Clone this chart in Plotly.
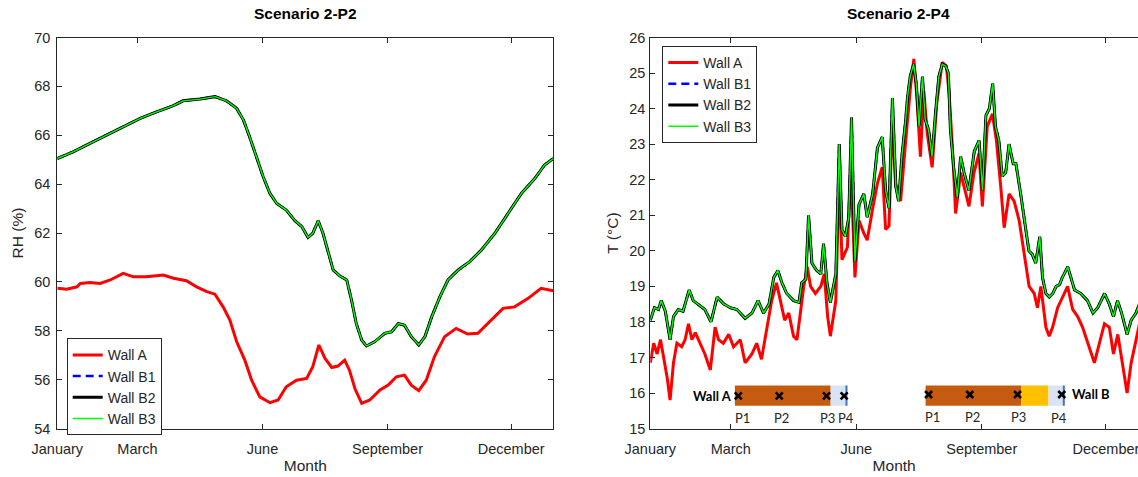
import plotly.graph_objects as go

# ---------------- data ----------------
months = ["January", "March", "June", "September", "December"]
month_start_day = [0, 59, 151, 243, 334]

rh_day_a = [0, 7, 14.5, 17, 24, 31.5, 39, 48.5, 56, 65.5,
            78, 85.5, 95, 102.5, 110, 116, 122, 127, 132, 138,
            143, 149, 156.5, 162.5, 168.5, 176, 183.5, 188, 192.5, 197,
            202, 206.5, 211.5, 215, 219, 224, 230, 237.5, 243.5, 249.5,
            255.5, 260.5, 266, 271.5, 277.5, 285, 293.5, 302, 309.5, 318,
            328, 336.5, 346.5, 356, 365]
rh_wall_a = [59.74, 59.7, 59.8, 59.94, 59.98, 59.94, 60.08, 60.35, 60.21, 60.21,
             60.28, 60.15, 60.05, 59.8, 59.6, 59.5, 58.98, 58.44, 57.55, 56.8,
             55.98, 55.3, 55.06, 55.17, 55.71, 55.98, 56.05, 56.53, 57.42, 56.87,
             56.5, 56.56, 56.8, 56.39, 55.64, 55.03, 55.17, 55.58, 55.78, 56.12,
             56.19, 55.78, 55.55, 55.98, 56.94, 57.76, 58.1, 57.87, 57.9, 58.37,
             58.92, 58.98, 59.33, 59.74, 59.64]

rh_day_b = [0, 12, 24, 36, 48.5, 61, 73, 85, 92.5, 105,
            116, 124.5, 132, 137, 141.5, 146.5, 151.5, 156.5, 161.5, 168.5,
            175, 180, 184.5, 188, 192, 195.5, 199.5, 203, 208, 213,
            216.5, 220, 224, 227.5, 233.5, 241, 246, 251, 255.5, 260.5,
            266, 270.5, 275.5, 281.5, 287.5, 295, 303.5, 312, 322, 331.5,
            341.5, 351.5, 358.5, 365]
rh_wall_b = [65.05, 65.33, 65.67, 66.01, 66.35, 66.69, 66.96, 67.2, 67.41, 67.48,
             67.58, 67.41, 67.1, 66.62, 65.94, 65.12, 64.3, 63.62, 63.21, 62.94,
             62.5, 62.26, 61.82, 61.99, 62.5, 61.99, 61.17, 60.49, 60.24, 60.08,
             59.26, 58.3, 57.62, 57.38, 57.55, 57.9, 57.96, 58.3, 58.23, 57.76,
             57.42, 57.76, 58.57, 59.39, 60.08, 60.49, 60.83, 61.3, 61.99, 62.8,
             63.62, 64.24, 64.78, 65.05]

t_day_a = [0, 2.5, 5, 7.5, 10, 12.5, 14.5, 17, 19.5, 23,
           25.5, 28, 30.5, 33, 36.5, 40, 44, 47.5, 50, 53.5,
           57.5, 61, 66, 69.5, 74.5, 78, 81.5, 85.5, 89, 92.5,
           95.5, 98.5, 101.5, 105, 107.5, 110, 112.5, 115, 117.5, 121,
           125, 127.5, 130, 132, 136, 138.5, 140.5, 144.5, 147, 150,
           153, 156.5, 159, 162.8, 166.5, 170, 172.5, 175, 177.5, 179.7,
           183.5, 187, 190.7, 193.2, 195.5, 198, 200.5, 203, 206.6, 210,
           214, 217, 219, 221.5, 223.8, 227.5, 231, 233.6, 237.3, 241,
           243.4, 247, 250.8, 253.7, 256.9, 259.4, 263, 266.7, 270.4, 274.1,
           277.7, 281.4, 283.8, 286.3, 290, 292.4, 294.9, 298.6, 302.2, 305.9,
           309.6, 313.3, 316.9, 321.8, 325.5, 329.2, 332.9, 336.5, 339.5, 342.7,
           346.4, 349.5, 352.5, 356.2, 358.6, 362, 365]
t_wall_a = [16.85, 17.4, 17.1, 17.5, 16.95, 16.4, 15.8, 16.85, 17.4, 17.3,
            17.5, 17.95, 17.5, 17.7, 17.4, 17.1, 16.65, 17.85, 17.5, 17.4,
            17.65, 17.3, 17.5, 16.85, 17.1, 17.4, 16.95, 17.85, 18.6, 19.1,
            18.6, 18.05, 18.25, 17.6, 17.5, 18.25, 19.0, 19.55, 19.0, 18.8,
            19.0, 19.35, 18.15, 17.6, 18.6, 22.2, 19.75, 20.1, 22.4, 19.25,
            20.85, 20.5, 20.3, 21.15, 21.9, 22.35, 20.6, 20.7, 23.8, 21.9,
            21.4, 23.0, 24.6, 25.4, 24.25, 22.65, 24.5, 23.3, 22.35, 24.15,
            25.3, 25.2, 24.45, 22.9, 21.05, 22.2, 21.6, 21.25, 22.2, 22.75,
            21.25, 23.5, 23.85, 23.1, 21.8, 20.65, 21.6, 21.4, 20.85, 19.9,
            19.0, 18.8, 18.4, 19.0, 17.85, 17.6, 17.85, 18.4, 18.7, 19.0,
            18.35, 18.15, 17.85, 17.3, 16.85, 17.4, 17.95, 17.85, 17.1, 17.65,
            16.75, 16.0, 16.85, 17.5, 17.95, 17.3, 17.1]

t_day_b = [0, 3, 6, 8, 11, 13, 14.5, 17, 20.5, 24,
           28.5, 31.5, 35, 40, 44.5, 49, 54, 58.5, 63.5, 69.5,
           74.5, 79, 83, 87, 90.5, 93.5, 96.5, 100, 105, 109,
           111, 114, 116, 118.5, 122, 125, 127, 129.5, 132, 136,
           138.5, 140.5, 143, 145.5, 147.5, 150, 153, 156.5, 159, 163,
           166.5, 170, 172.5, 175, 177.5, 180, 182, 184.5, 187, 188.5,
           190.5, 193, 195, 197, 199.5, 201.5, 204, 206.5, 209, 211.5,
           214, 216.5, 218.5, 220, 222.5, 225, 227.5, 230, 233.5, 237.5,
           241, 243.5, 246, 248.5, 251, 253, 255.5, 258, 260.5, 263,
           266, 268, 271.5, 275.5, 277.5, 280, 282.5, 285.5, 287.5, 290,
           292.5, 295, 297.5, 300, 302, 306, 308.5, 311, 315.5, 320.5,
           324.5, 328, 333, 336.5, 339.5, 342.5, 345.5, 349.5, 352.5, 356,
           358.5, 362, 365]
t_wall_b = [18.05, 18.4, 18.35, 18.6, 18.3, 17.9, 17.5, 18.15, 18.35, 18.3,
            18.9, 18.6, 18.5, 18.35, 18.0, 18.7, 18.5, 18.4, 18.35, 18.1,
            18.25, 18.6, 18.25, 18.5, 19.25, 19.45, 19.1, 18.8, 18.6, 18.55,
            19.1, 19.2, 21.0, 19.65, 19.45, 19.35, 20.2, 19.1, 18.55, 19.35,
            23.0, 20.6, 20.4, 20.95, 23.75, 19.7, 21.3, 21.6, 20.95, 21.6,
            22.9, 23.2, 21.7, 21.2, 24.3, 21.8, 21.4, 22.7, 23.6, 24.3,
            24.9, 25.25, 24.7, 23.5, 24.9, 23.7, 23.4, 22.65, 23.85, 24.9,
            25.25, 25.2, 25.0, 23.4, 22.3, 21.5, 22.65, 22.2, 21.7, 22.8,
            23.1, 21.7, 23.8, 24.0, 24.7, 23.5, 23.1, 22.1, 22.2, 23.0,
            22.45, 22.45, 21.6, 20.6, 20.0, 19.9, 19.65, 20.4, 19.25, 18.8,
            18.7, 18.8, 19.0, 19.05, 19.25, 19.55, 19.25, 18.9, 18.8, 18.6,
            18.25, 18.4, 18.8, 18.5, 18.15, 18.6, 18.25, 17.65, 18.05, 18.25,
            18.5, 18.4, 18.2]

series_names = ["Wall A", "Wall B1", "Wall B2", "Wall B3"]

# wall schematic (illustration inside the temperature panel)
wall_a_layers = [(62.0, 132.2, "#C55A11"), (132.2, 144.3, "#DAE3F3")]
wall_b_layers = [(201.8, 271.8, "#C55A11"), (271.8, 291.9, "#FFC000"), (291.9, 303.6, "#DAE3F3")]
wall_a_sensor_x = [64.5, 94.5, 129.2, 142.1]
wall_b_sensor_x = [204.0, 234.2, 269.2, 301.6]
sensor_labels = ["P1", "P2", "P3", "P4"]

# ---------------- styling ----------------
W, H = 1138, 477
FONT = "Liberation Sans, Arial, Helvetica, sans-serif"
AX = "#262626"
styles = {
    "Wall A": dict(color="#FF0000", width=3),
    "Wall B1": dict(color="#0000FF", width=2.5, dash="8px,5px"),
    "Wall B2": dict(color="#000000", width=3),
    "Wall B3": dict(color="#00FF00", width=1.4),
}

fig = go.Figure()

rh_x = {"Wall A": rh_day_a, "Wall B1": rh_day_b, "Wall B2": rh_day_b, "Wall B3": rh_day_b}
rh_y = {"Wall A": rh_wall_a, "Wall B1": rh_wall_b, "Wall B2": rh_wall_b, "Wall B3": rh_wall_b}
t_x = {"Wall A": t_day_a, "Wall B1": t_day_b, "Wall B2": t_day_b, "Wall B3": t_day_b}
t_y = {"Wall A": t_wall_a, "Wall B1": t_wall_b, "Wall B2": t_wall_b, "Wall B3": t_wall_b}

for name in series_names:
    fig.add_trace(go.Scatter(x=rh_x[name], y=rh_y[name], mode="lines", name=name,
                             line=styles[name], xaxis="x", yaxis="y", legend="legend"))
for name in series_names:
    fig.add_trace(go.Scatter(x=t_x[name], y=t_y[name], mode="lines", name=name,
                             line=styles[name], xaxis="x2", yaxis="y2", legend="legend2"))

# schematic shapes (drawn below the traces so the sensor crosses stay visible)
y_lo, y_hi = 15.64, 16.21
shapes = []
for layers in (wall_a_layers, wall_b_layers):
    for x0, x1, col in layers:
        shapes.append(dict(type="rect", xref="x2", yref="y2", x0=x0, x1=x1, y0=y_lo, y1=y_hi,
                           fillcolor=col, line=dict(width=0), layer="below"))
    end = layers[-1][1]
    shapes.append(dict(type="line", xref="x2", yref="y2", x0=end - 0.5, x1=end - 0.5,
                       y0=y_lo, y1=y_hi, line=dict(color="#4472C4", width=2), layer="below"))

fig.add_trace(go.Scatter(x=wall_a_sensor_x + wall_b_sensor_x,
                         y=[15.92] * 4 + [15.96] * 4, mode="markers",
                         marker=dict(symbol="x-thin", size=7, line=dict(color="black", width=2.6)),
                         xaxis="x2", yaxis="y2", showlegend=False, hoverinfo="skip"))

annotations = []
SFONT = "Lato, Open Sans, sans-serif"
label_x_a = [67.7, 96.3, 130.0, 143.6]
label_x_b = [207.1, 235.9, 269.6, 299.9]
label_y_b = [15.36, 15.36, 15.36, 15.32]
for i, lab in enumerate(sensor_labels):
    annotations.append(dict(x=label_x_a[i], y=15.3, xref="x2", yref="y2", text=lab, showarrow=False,
                            font=dict(family=SFONT, size=13, color=AX)))
    annotations.append(dict(x=label_x_b[i], y=label_y_b[i] - 0.02, xref="x2", yref="y2", text=lab,
                            showarrow=False, font=dict(family=SFONT, size=13, color=AX)))
annotations.append(dict(x=61.0, y=15.92, xref="x2", yref="y2", text="<b>Wall A</b>", showarrow=False,
                        xanchor="right", font=dict(family=SFONT, size=13, color="black")))
annotations.append(dict(x=307.5, y=15.96, xref="x2", yref="y2", text="<b>Wall B</b>", showarrow=False,
                        xanchor="left", font=dict(family=SFONT, size=13, color="black")))

# panel titles
x1_dom = [57.3 / W, 553.3 / W]
x2_dom = [650.3 / W, 1.0]
y_dom = [1 - 428.6 / H, 1 - 37.5 / H]
for dom, txt in ((x1_dom, "Scenario 2-P2"), (x2_dom, "Scenario 2-P4")):
    cx = dom[0] + (496 / W) / 2
    annotations.append(dict(x=cx, y=1 - 13 / H, xref="paper", yref="paper", text="<b>" + txt + "</b>",
                            showarrow=False, xanchor="center", yanchor="middle",
                            font=dict(family=FONT, size=15.5, color="black")))

axis_common = dict(showline=True, linecolor=AX, linewidth=1, ticks="inside", ticklen=5,
                   tickcolor=AX, showgrid=False, zeroline=False, automargin=False,
                   tickfont=dict(family=FONT, size=14.5, color=AX))

fig.update_layout(
    width=W, height=H, margin=dict(l=0, r=0, t=0, b=0, autoexpand=False),
    paper_bgcolor="white", plot_bgcolor="white",
    showlegend=True,
    xaxis=dict(domain=x1_dom, range=[0, 365], tickvals=month_start_day, ticktext=months,
               mirror="ticks", anchor="y", ticklabelstandoff=7,
               title=dict(text="Month", font=dict(family=FONT, size=15.5, color=AX), standoff=4),
               **axis_common),
    yaxis=dict(domain=y_dom, range=[54, 70], dtick=2, mirror="ticks", anchor="x",
               ticklabelstandoff=3,
               title=dict(text="RH (%)", font=dict(family=FONT, size=15.5, color=AX), standoff=6),
               **axis_common),
    xaxis2=dict(domain=x2_dom, range=[0, 357.5], tickvals=month_start_day, ticktext=months,
                mirror="ticks", anchor="y2", ticklabelstandoff=7, ticklabeloverflow="allow",
                title=dict(text="Month", font=dict(family=FONT, size=15.5, color=AX), standoff=4),
                **axis_common),
    yaxis2=dict(domain=y_dom, range=[15, 26], dtick=1, mirror=False, anchor="x2",
                ticklabelstandoff=1,
                title=dict(text="T (°C)", font=dict(family=FONT, size=15.5, color=AX), standoff=6),
                **axis_common),
    legend=dict(x=66.7 / W, y=1 - 338.3 / H, xanchor="left", yanchor="top",
                bgcolor="white", bordercolor=AX, borderwidth=1, tracegroupgap=0,
                font=dict(family=FONT, size=14, color=AX)),
    legend2=dict(x=662.3 / W, y=1 - 46 / H, xanchor="left", yanchor="top",
                 bgcolor="white", bordercolor=AX, borderwidth=1, tracegroupgap=0,
                 font=dict(family=FONT, size=14, color=AX)),
    shapes=shapes,
    annotations=annotations,
)

fig.write_html("out.html")
